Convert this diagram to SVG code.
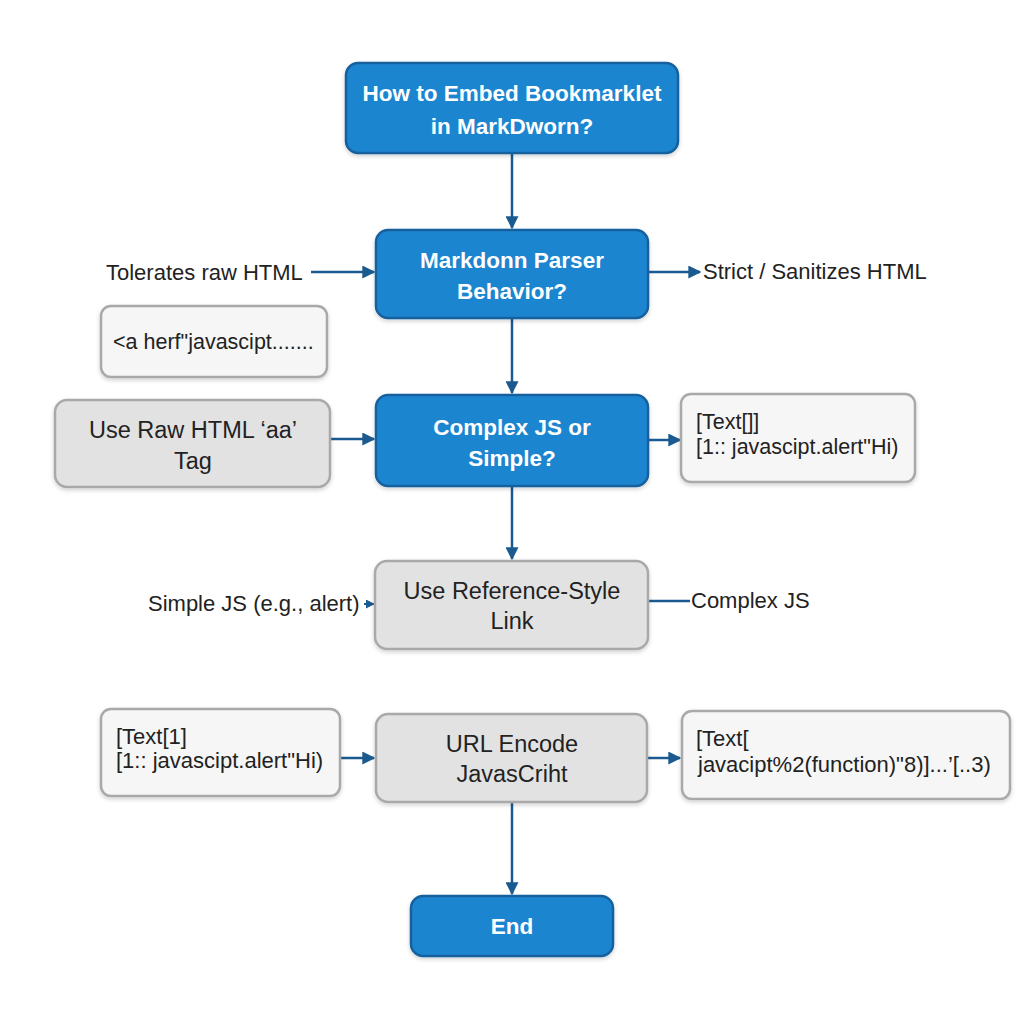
<svg xmlns="http://www.w3.org/2000/svg" width="1024" height="1024" viewBox="0 0 1024 1024">
<defs>
<filter id="sh" x="-10%" y="-10%" width="120%" height="130%">
<feDropShadow dx="0" dy="2" stdDeviation="2" flood-color="#000" flood-opacity="0.18"/>
</filter>
<marker id="arr" viewBox="0 0 10 10" refX="9" refY="5" markerWidth="13" markerHeight="13" orient="auto" markerUnits="userSpaceOnUse">
<path d="M0,0 L10,5 L0,10 z" fill="#1a5a90"/>
</marker>
<marker id="arrs" viewBox="0 0 10 10" refX="9" refY="5" markerWidth="9" markerHeight="9" orient="auto" markerUnits="userSpaceOnUse">
<path d="M0,0 L10,5 L0,10 z" fill="#1a5a90"/>
</marker>
</defs>
<style>
.blue{fill:#1f85d0;stroke:#15609e;stroke-width:2.5;filter:url(#sh)}
.gray{fill:#e2e2e2;stroke:#a9a9a9;stroke-width:2.5;filter:url(#sh)}
.note{fill:#f6f6f6;stroke:#a9a9a9;stroke-width:2.5;filter:url(#sh)}
.bt{font-family:"Liberation Sans",Arial,sans-serif;font-weight:bold;font-size:22.5px;fill:#fff;text-anchor:middle}
.gt{font-family:"Liberation Sans",Arial,sans-serif;font-size:23.5px;fill:#222;text-anchor:middle}
.lt{font-family:"Liberation Sans",Arial,sans-serif;font-size:22px;fill:#222}
.nt{font-family:"Liberation Sans",Arial,sans-serif;font-size:21.5px;fill:#222}
.c{fill:none;stroke:#1a5a90;stroke-width:2.5;marker-end:url(#arr)}
.cs{fill:none;stroke:#1a5a90;stroke-width:2;marker-end:url(#arrs)}
.cn{fill:none;stroke:#1a5a90;stroke-width:2.5}
</style>
<rect width="1024" height="1024" fill="#fff"/>
<g id="connectors">
<path class="c" d="M512,154 V228"/>
<path class="c" d="M311,272 H374"/>
<path class="c" d="M649,272 H700"/>
<path class="c" d="M512,319 V393"/>
<path class="c" d="M331,439 H374"/>
<path class="c" d="M649,440 H680"/>
<path class="c" d="M512,487 V559"/>
<path class="cs" d="M364,604 H374"/>
<path class="cn" d="M649,601 H690"/>
<path class="c" d="M341,758 H374"/>
<path class="c" d="M648,758 H680"/>
<path class="c" d="M512,803 V894"/>
</g>
<g id="n-start">
<rect class="blue" x="346" y="63" width="332" height="90" rx="12"/>
<text class="bt" x="512" y="101">How to Embed Bookmarklet</text>
<text class="bt" x="512" y="134">in MarkDworn?</text>
</g>
<g id="n-parser">
<rect class="blue" x="376" y="230" width="272" height="88" rx="12"/>
<text class="bt" x="512" y="268">Markdonn Parser</text>
<text class="bt" x="512" y="299">Behavior?</text>
</g>
<g id="l-tolerates">
<text class="lt" x="106" y="280">Tolerates raw HTML</text>
</g>
<g id="l-strict">
<text class="lt" x="703" y="279">Strict / Sanitizes HTML</text>
</g>
<g id="n-rawsnippet">
<rect class="note" x="101" y="306" width="226" height="71" rx="10"/>
<text class="nt" x="113" y="349">&lt;a herf"javascipt.......</text>
</g>
<g id="n-complex">
<rect class="blue" x="376" y="395" width="272" height="91" rx="12"/>
<text class="bt" x="512" y="435">Complex JS or</text>
<text class="bt" x="512" y="466">Simple?</text>
</g>
<g id="n-rawhtml">
<rect class="gray" x="55" y="400" width="275" height="87" rx="12"/>
<text class="gt" x="193" y="438">Use Raw HTML ‘aa’</text>
<text class="gt" x="193" y="469">Tag</text>
</g>
<g id="n-refnote">
<rect class="note" x="681" y="394" width="234" height="88" rx="10"/>
<text class="nt" x="696" y="429">[Text[]]</text>
<text class="nt" x="696" y="454">[1:: javascipt.alert"Hi)</text>
</g>
<g id="n-reference">
<rect class="gray" x="375" y="561" width="273" height="88" rx="12"/>
<text class="gt" x="512" y="599">Use Reference-Style</text>
<text class="gt" x="512" y="629">Link</text>
</g>
<g id="l-simple">
<text class="lt" x="148" y="611">Simple JS (e.g., alert)</text>
</g>
<g id="l-complexjs">
<text class="lt" x="691" y="608">Complex JS</text>
</g>
<g id="n-leftnote">
<rect class="note" x="101" y="709" width="239" height="87" rx="10"/>
<text class="lt" x="116" y="744">[Text[1]</text>
<text class="lt" x="116" y="768">[1:: javascipt.alert"Hi)</text>
</g>
<g id="n-urlencode">
<rect class="gray" x="376" y="714" width="271" height="88" rx="12"/>
<text class="gt" x="512" y="752">URL Encode</text>
<text class="gt" x="512" y="782">JavasCriht</text>
</g>
<g id="n-rightnote">
<rect class="note" x="682" y="711" width="328" height="88" rx="10"/>
<text class="lt" x="696" y="746">[Text[</text>
<text class="lt" x="698" y="772">javacipt%2(function)"8)]...’[..3)</text>
</g>
<g id="n-end">
<rect class="blue" x="411" y="896" width="202" height="60" rx="12"/>
<text class="bt" x="512" y="934">End</text>
</g>
</svg>
